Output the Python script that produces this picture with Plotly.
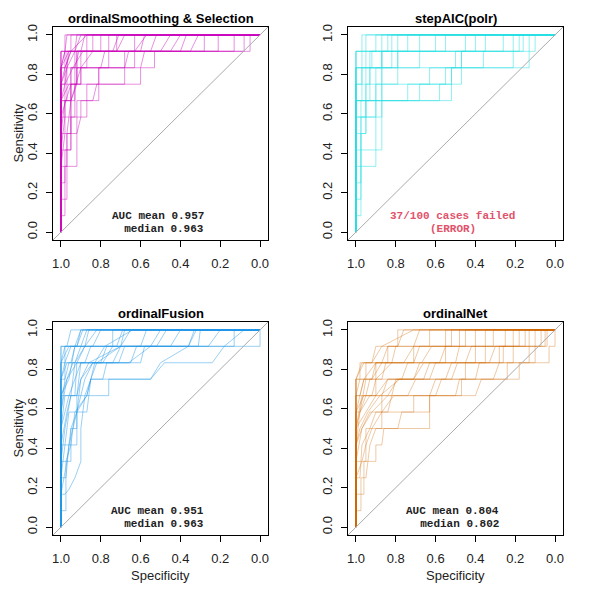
import plotly.graph_objects as go

# ROC curves: (specificity, sensitivity in twelfths)
N_POS = 12

SMOOTH_CURVES = [
    [(1, 0), (1, 9), (0.97, 9), (0.97, 11), (0.87, 11), (0.87, 12), (0, 12)],
    [(1, 0), (1, 2), (0.97, 2), (0.97, 6), (0.95, 6), (0.95, 9), (0.92, 9), (0.92, 11), (0.76, 11), (0.76, 12), (0, 12)],
    [(1, 0), (1, 7), (0.98, 7), (0.98, 10), (0.95, 11), (0.80, 11), (0.80, 12), (0, 12)],
    [(1, 0), (1, 4), (0.97, 4), (0.97, 6), (0.92, 6), (0.92, 8), (0.84, 8), (0.82, 9), (0.68, 9), (0.68, 11), (0.55, 11), (0.52, 12), (0, 12)],
    [(1, 0), (1, 10), (0.98, 11), (0.93, 11), (0.90, 12), (0, 12)],
    [(1, 0), (1, 6), (0.98, 8), (0.95, 8), (0.95, 10), (0.87, 10), (0.87, 11), (0.63, 11), (0.63, 12), (0, 12)],
    [(1, 0), (1, 11), (0.95, 11), (0.95, 12), (0, 12)],
    [(1, 0), (1, 5), (0.95, 5), (0.95, 7), (0.87, 7), (0.87, 9), (0.81, 9), (0.81, 10), (0.63, 10), (0.63, 11), (0.13, 11), (0.13, 12), (0, 12)],
    [(1, 0), (1, 8), (0.97, 8), (0.97, 9), (0.90, 9), (0.90, 11), (0.72, 11), (0.68, 12), (0, 12)],
    [(1, 0), (1, 3), (0.98, 3), (0.98, 4), (0.92, 4), (0.92, 6), (0.90, 7), (0.90, 8), (0.81, 8), (0.81, 10), (0.53, 10), (0.53, 11), (0.05, 11), (0.05, 12), (0, 12)],
    [(1, 0), (1, 9), (0.98, 10), (0.95, 11), (0.87, 12), (0, 12)],
    [(1, 0), (1, 8), (0.96, 9), (0.92, 9), (0.92, 10), (0.76, 10), (0.76, 11), (0.45, 11), (0.40, 12), (0, 12)],
    [(1, 0), (1, 10), (0.98, 10), (0.98, 11), (0.84, 11), (0.84, 12), (0, 12)],
    [(1, 0), (1, 5), (0.98, 7), (0.93, 7), (0.93, 9), (0.60, 9), (0.60, 10), (0.58, 11), (0.35, 11), (0.31, 12), (0, 12)],
    [(1, 0), (1, 11), (0.98, 11), (0.98, 12), (0, 12)],
    [(1, 0), (1, 7), (0.95, 9), (0.90, 9), (0.90, 10), (0.84, 11), (0.72, 11), (0.72, 12), (0, 12)],
    [(1, 0), (1, 1), (0.98, 1), (0.98, 5), (0.95, 5), (0.95, 8), (0.92, 9), (0.92, 11), (0.21, 11), (0.21, 12), (0, 12)],
    [(1, 0), (1, 9), (0.98, 9), (0.96, 11), (0.90, 11), (0.88, 12), (0, 12)],
    [(1, 0), (1, 10), (0.97, 10), (0.93, 11), (0.63, 11), (0.57, 12), (0, 12)],
    [(1, 0), (1, 8), (0.95, 8), (0.95, 10), (0.68, 10), (0.66, 11), (0.28, 11), (0.28, 12), (0, 12)],
    [(1, 0), (1, 6), (0.97, 6), (0.95, 8), (0.90, 10), (0.80, 10), (0.78, 11), (0.50, 11), (0.45, 12), (0, 12)],
    [(1, 0), (1, 11), (0.93, 11), (0.92, 12), (0, 12)],
    [(1, 0), (1, 4), (0.98, 6), (0.98, 8), (0.93, 8), (0.93, 11), (0.08, 11), (0.08, 12), (0, 12)],
    [(1, 0), (1, 10), (0.98, 11), (0.97, 12), (0, 12)],
    [(1, 0), (1, 9), (0.97, 10), (0.93, 10), (0.91, 11), (0.40, 11), (0.37, 12), (0, 12)],
    [(1, 0), (1, 10), (0.96, 11), (0.74, 11), (0.71, 12), (0, 12)],
    [(1, 0), (1, 8), (0.98, 9), (0.94, 10), (0.89, 11), (0.60, 11), (0.58, 12), (0, 12)],
]

STEPAIC_CURVES = [
    [(1, 0), (1, 8), (0.87, 8), (0.87, 11), (0.68, 11), (0.68, 12), (0, 12)],
    [(1, 0), (1, 4), (0.90, 4), (0.90, 8), (0.52, 8), (0.52, 10), (0.13, 10), (0.13, 11), (0.10, 11), (0.10, 12), (0, 12)],
    [(1, 0), (1, 7), (0.95, 7), (0.95, 9), (0.87, 9), (0.87, 11), (0.55, 11), (0.55, 12), (0, 12)],
    [(1, 0), (1, 3), (0.975, 3), (0.975, 7), (0.87, 7), (0.87, 8), (0.74, 8), (0.74, 9), (0.47, 9), (0.47, 11), (0.21, 11), (0.21, 12), (0, 12)],
    [(1, 0), (1, 10), (0.95, 10), (0.95, 12), (0, 12)],
    [(1, 0), (1, 5), (0.87, 5), (0.87, 9), (0.63, 9), (0.63, 10), (0.50, 10), (0.50, 11), (0.16, 11), (0.16, 12), (0, 12)],
    [(1, 0), (1, 11), (0.90, 11), (0.90, 12), (0, 12)],
    [(1, 0), (1, 8), (0.93, 8), (0.93, 10), (0.79, 10), (0.79, 12), (0, 12)],
    [(1, 0), (1, 6), (0.95, 6), (0.95, 8), (0.58, 8), (0.58, 9), (0.52, 9), (0.52, 10), (0.36, 10), (0.36, 11), (0.26, 11), (0.26, 12), (0, 12)],
    [(1, 0), (1, 9), (0.97, 9), (0.97, 11), (0.84, 11), (0.84, 12), (0, 12)],
    [(1, 0), (1, 2), (0.975, 2), (0.975, 8), (0.90, 8), (0.90, 10), (0.68, 10), (0.68, 11), (0.45, 11), (0.45, 12), (0, 12)],
    [(1, 0), (1, 10), (0.92, 10), (0.92, 11), (0.60, 11), (0.60, 12), (0, 12)],
    [(1, 0), (1, 1), (0.975, 1), (0.975, 6), (0.95, 6), (0.95, 8), (0.68, 8), (0.68, 9), (0.55, 9), (0.55, 10), (0.21, 10), (0.21, 11), (0.13, 11), (0.13, 12), (0, 12)],
    [(1, 0), (1, 11), (0.97, 11), (0.97, 12), (0, 12)],
    [(1, 0), (1, 8), (0.97, 8), (0.97, 10), (0.82, 10), (0.82, 11), (0.40, 11), (0.40, 12), (0, 12)],
    [(1, 0), (1, 9), (0.93, 9), (0.93, 11), (0.74, 11), (0.74, 12), (0, 12)],
    [(1, 0), (1, 7), (0.90, 7), (0.90, 9), (0.79, 9), (0.79, 11), (0.35, 11), (0.35, 12), (0, 12)],
    [(1, 0), (1, 10), (0.87, 10), (0.87, 12), (0, 12)],
    [(1, 0), (1, 8), (0.95, 8), (0.95, 10), (0.47, 10), (0.47, 11), (0.18, 11), (0.18, 12), (0, 12)],
    [(1, 0), (1, 11), (0.82, 11), (0.82, 12), (0, 12)],
]

FUSION_CURVES = [
    [(1, 0), (1, 2), (0.98, 2), (0.96, 2.3), (0.93, 3), (0.90, 4), (0.90, 6), (0.88, 8), (0.82, 10), (0.70, 11), (0.65, 12), (0, 12)],
    [(1, 0), (1, 8), (0.96, 9), (0.93, 11), (0.84, 11), (0.80, 12), (0, 12)],
    [(1, 0), (1, 5), (0.97, 7), (0.95, 8), (0.92, 8), (0.90, 10), (0.74, 10), (0.70, 11), (0.55, 11), (0.50, 12), (0, 12)],
    [(1, 0), (1, 10), (0.98, 11), (0.00, 11), (0, 12)],
    [(1, 0), (1, 4), (0.95, 4), (0.95, 6), (0.92, 6), (0.92, 8), (0.76, 8), (0.76, 9), (0.55, 9), (0.48, 10), (0.24, 10), (0.18, 11), (0.08, 12), (0, 12)],
    [(1, 0), (1, 9), (0.97, 10), (0.93, 10), (0.90, 11), (0.87, 12), (0, 12)],
    [(1, 0), (1, 6), (0.98, 8), (0.92, 8), (0.90, 9), (0.84, 10), (0.79, 10), (0.74, 11), (0.45, 11), (0.40, 12), (0, 12)],
    [(1, 0), (1, 11), (0.97, 11), (0.95, 12), (0, 12)],
    [(1, 0), (1, 3), (0.98, 5), (0.96, 7), (0.87, 7), (0.85, 9), (0.79, 9), (0.77, 10), (0.65, 10), (0.62, 11), (0.31, 11), (0.30, 12), (0, 12)],
    [(1, 0), (1, 7), (0.97, 9), (0.92, 10), (0.88, 11), (0.82, 12), (0, 12)],
    [(1, 0), (1, 9), (0.98, 9), (0.98, 11), (0.74, 11), (0.74, 12), (0, 12)],
    [(1, 0), (1, 5), (0.92, 5), (0.92, 7), (0.88, 9), (0.84, 10), (0.60, 10), (0.58, 11), (0.36, 11), (0.33, 12), (0, 12)],
    [(1, 0), (1, 10), (0.95, 10), (0.93, 11), (0.90, 12), (0, 12)],
    [(1, 0), (1, 2), (0.97, 4), (0.95, 6), (0.92, 7), (0.90, 9), (0.86, 10), (0.70, 11), (0.68, 12), (0, 12)],
    [(1, 0), (1, 8), (0.93, 8), (0.92, 10), (0.66, 10), (0.55, 11), (0.13, 11), (0.13, 12), (0, 12)],
    [(1, 0), (1, 1), (0.975, 1), (0.975, 4), (0.95, 5), (0.93, 7), (0.87, 8), (0.83, 10), (0.78, 11), (0.64, 12), (0, 12)],
    [(1, 0), (1, 10), (0.96, 11), (0.92, 11), (0.89, 12), (0, 12)],
    [(1, 0), (1, 6), (0.96, 8), (0.93, 9), (0.90, 10), (0.71, 10), (0.68, 11), (0.52, 11), (0.47, 12), (0, 12)],
    [(1, 0), (1, 9), (0.98, 10), (0.95, 11), (0.72, 11), (0.69, 12), (0, 12)],
    [(1, 0), (1, 7), (0.98, 9), (0.96, 10), (0.80, 10), (0.77, 11), (0.26, 11), (0.20, 12), (0, 12)],
    [(1, 0), (1, 4), (0.98, 6), (0.95, 8), (0.93, 10), (0.88, 11), (0.86, 12), (0, 12)],
    [(1, 0), (1, 11), (0.92, 11), (0.90, 12), (0, 12)],
    [(1, 0), (1, 8), (0.97, 9), (0.94, 10), (0.88, 10), (0.85, 11), (0.60, 11), (0.57, 12), (0, 12)],
    [(1, 0), (1, 3), (0.975, 3), (0.96, 5), (0.92, 7), (0.87, 8), (0.85, 9), (0.55, 9), (0.50, 10), (0.36, 11), (0.32, 12), (0, 12)],
]

NET_CURVES = [
    [(1, 0), (1, 9), (0.95, 9), (0.95, 10), (0.84, 10), (0.84, 11), (0.79, 11), (0.79, 12), (0, 12)],
    [(1, 0), (1, 6), (0.97, 8), (0.90, 8), (0.90, 10), (0.71, 10), (0.71, 11), (0.55, 11), (0.55, 12), (0, 12)],
    [(1, 0), (1, 4), (0.95, 4), (0.95, 6), (0.87, 6), (0.87, 8), (0.63, 8), (0.60, 9), (0.45, 9), (0.45, 10), (0.26, 10), (0.26, 11), (0.10, 11), (0.10, 12), (0, 12)],
    [(1, 0), (1, 8), (0.98, 9), (0.92, 9), (0.87, 10), (0.76, 10), (0.71, 11), (0.48, 11), (0.48, 12), (0, 12)],
    [(1, 0), (1, 5), (0.98, 7), (0.93, 8), (0.82, 8), (0.80, 9), (0.55, 9), (0.52, 10), (0.35, 10), (0.35, 11), (0.18, 11), (0.18, 12), (0, 12)],
    [(1, 0), (1, 2), (0.96, 2), (0.96, 4), (0.90, 4), (0.90, 5), (0.87, 5), (0.86, 6), (0.63, 6), (0.63, 8), (0.40, 8), (0.37, 9), (0.24, 9), (0.24, 10), (0.10, 10), (0.10, 11), (0.04, 11), (0.04, 12), (0, 12)],
    [(1, 0), (1, 7), (0.96, 9), (0.90, 10), (0.82, 10), (0.80, 11), (0.63, 11), (0.63, 12), (0, 12)],
    [(1, 0), (1, 3), (0.98, 3), (0.97, 5), (0.93, 6), (0.90, 7), (0.71, 7), (0.71, 8), (0.50, 8), (0.48, 9), (0.31, 9), (0.28, 10), (0.21, 10), (0.21, 11), (0.07, 11), (0.07, 12), (0, 12)],
    [(1, 0), (1, 9), (0.97, 10), (0.92, 10), (0.87, 11), (0.71, 12), (0, 12)],
    [(1, 0), (1, 6), (0.95, 7), (0.90, 8), (0.84, 9), (0.63, 9), (0.60, 10), (0.45, 10), (0.42, 11), (0.25, 11), (0.25, 12), (0, 12)],
    [(1, 0), (1, 8), (0.98, 8), (0.96, 9), (0.87, 9), (0.85, 10), (0.55, 10), (0.55, 11), (0.35, 11), (0.35, 12), (0, 12)],
    [(1, 0), (1, 1), (0.975, 1), (0.975, 3), (0.95, 3), (0.93, 5), (0.90, 6), (0.79, 6), (0.77, 7), (0.63, 7), (0.63, 8), (0.47, 8), (0.47, 9), (0.18, 9), (0.18, 10), (0.03, 10), (0.03, 11), (0.00, 11), (0, 12)],
    [(1, 0), (1, 7), (0.98, 7), (0.95, 9), (0.92, 9), (0.90, 10), (0.67, 10), (0.62, 11), (0.52, 11), (0.52, 12), (0, 12)],
    [(1, 0), (1, 5), (0.98, 6), (0.94, 7), (0.88, 8), (0.78, 9), (0.71, 9), (0.66, 10), (0.40, 10), (0.40, 11), (0.21, 11), (0.21, 12), (0, 12)],
    [(1, 0), (1, 9), (0.98, 9), (0.98, 10), (0.92, 10), (0.90, 11), (0.79, 11), (0.76, 12), (0, 12)],
    [(1, 0), (1, 4), (0.97, 6), (0.93, 7), (0.84, 7), (0.82, 8), (0.60, 8), (0.57, 9), (0.40, 9), (0.38, 10), (0.13, 10), (0.13, 11), (0.05, 11), (0.05, 12), (0, 12)],
    [(1, 0), (1, 8), (0.95, 8), (0.93, 9), (0.77, 9), (0.74, 10), (0.50, 10), (0.48, 11), (0.31, 11), (0.31, 12), (0, 12)],
    [(1, 0), (1, 6), (0.98, 7), (0.95, 8), (0.87, 8), (0.84, 9), (0.71, 9), (0.68, 10), (0.58, 10), (0.55, 11), (0.40, 11), (0.40, 12), (0, 12)],
    [(1, 0), (1, 3), (0.97, 4), (0.95, 5), (0.92, 6), (0.87, 7), (0.81, 8), (0.74, 8), (0.70, 9), (0.52, 9), (0.49, 10), (0.28, 10), (0.28, 11), (0.13, 11), (0.13, 12), (0, 12)],
    [(1, 0), (1, 7), (0.96, 8), (0.92, 8), (0.90, 9), (0.82, 10), (0.71, 10), (0.68, 11), (0.45, 11), (0.45, 12), (0, 12)],
    [(1, 0), (1, 5), (0.97, 6), (0.92, 7), (0.84, 8), (0.79, 9), (0.66, 9), (0.63, 10), (0.33, 10), (0.30, 11), (0.15, 11), (0.15, 12), (0, 12)],
    [(1, 0), (1, 9), (0.96, 10), (0.87, 10), (0.84, 11), (0.71, 11), (0.68, 12), (0, 12)],
]

PANEL_TITLES = ["ordinalSmoothing & Selection", "stepAIC(polr)", "ordinalFusion", "ordinalNet"]
PANEL_CURVES = [SMOOTH_CURVES, STEPAIC_CURVES, FUSION_CURVES, NET_CURVES]
PANEL_COLORS = ["rgba(205,11,188,0.45)", "rgba(40,226,229,0.5)",
                "rgba(34,151,230,0.45)", "rgba(205,102,0,0.35)"]
PANEL_NOTES = [("AUC mean 0.957", "  median 0.963"), ("37/100 cases failed", "(ERROR)"),
               ("AUC mean 0.951", "  median 0.963"), ("AUC mean 0.804", "  median 0.802")]

TICKS = [0.0, 0.2, 0.4, 0.6, 0.8, 1.0]

# The page body keeps its default 8px margin, so the figure starts at (8, 8)
PAGE_MARGIN = 8
W = H = 590 - PAGE_MARGIN
# panel boxes in page pixels: (left, right, top, bottom)
BOXES = [(53, 268, 27, 240), (348, 563, 27, 240), (53, 268, 322, 535), (348, 563, 322, 535)]

SANS = "Liberation Sans, Arial, Helvetica, sans-serif"
MONO = "Liberation Mono, Courier New, monospace"


def px(v):
    return v - PAGE_MARGIN


fig = go.Figure()
layout = {}
annotations = []
shapes = []

for i, (title, curves, color, note, box) in enumerate(
        zip(PANEL_TITLES, PANEL_CURVES, PANEL_COLORS, PANEL_NOTES, BOXES)):
    n = "" if i == 0 else str(i + 1)
    xref, yref = f"x{n}", f"y{n}"
    for curve in curves:
        fig.add_trace(go.Scatter(
            x=[p[0] for p in curve], y=[p[1] / N_POS for p in curve],
            mode="lines", line=dict(color=color, width=1),
            xaxis=xref, yaxis=yref, showlegend=False, hoverinfo="skip",
        ))
    left, right, top, bottom = (px(v) for v in box)
    common = dict(showline=True, linecolor="black", linewidth=1, mirror=True,
                  ticks="outside", ticklen=6, tickcolor="black", tickwidth=1,
                  showgrid=False, zeroline=False, tickvals=TICKS,
                  ticktext=[f"{t:.1f}" for t in TICKS], automargin=False,
                  tickfont=dict(family=SANS, size=13, color="#222222"))
    layout[f"xaxis{n}"] = dict(common, domain=[left / W, right / W], range=[1.04, -0.04],
                               anchor=yref, ticklabelstandoff=5)
    layout[f"yaxis{n}"] = dict(common, domain=[1 - bottom / H, 1 - top / H], range=[-0.04, 1.04],
                               anchor=xref, tickangle=-90, ticklabelstandoff=4)

    shapes.append(dict(type="line", xref=f"{xref} domain", yref=f"{yref} domain",
                       x0=0, y0=0, x1=1, y1=1, line=dict(color="#AAAAAA", width=1)))

    # title box hangs from 1px below the top of its row
    annotations.append(dict(text=f"<b>{title}</b>", xref="paper", yref="paper",
                            x=(left + right) / 2 / W, y=1 - (top - px(27) + 0.5) / H,
                            showarrow=False, font=dict(family=SANS, size=13, color="black"),
                            xanchor="center", yanchor="top"))
    if i % 2 == 0:
        annotations.append(dict(text="Sensitivity", xref="paper", yref="paper",
                                x=0.5 / W, y=1 - (top + bottom) / 2 / H, textangle=-90,
                                showarrow=False, font=dict(family=SANS, size=13, color="#222222"),
                                xanchor="left", yanchor="middle"))
    if i >= 2:
        annotations.append(dict(text="Specificity", xref="paper", yref="paper",
                                x=(left + right) / 2 / W, y=1 - (bottom + 40) / H,
                                showarrow=False, font=dict(family=SANS, size=13, color="#222222"),
                                xanchor="center", yanchor="middle"))

    if i == 1:
        for text, yv in zip(note, [0.081, 0.016]):
            annotations.append(dict(text=f"<b>{text}</b>", xref=xref, yref=yref,
                                    x=0.515, y=yv, showarrow=False,
                                    font=dict(family=MONO, size=11, color="#DF536B"),
                                    xanchor="center", yanchor="middle"))
    else:
        for text, yv in zip(note, [0.081, 0.016]):
            annotations.append(dict(text=f"<b>{text}</b>".replace(" ", "&nbsp;"), xref=xref, yref=yref,
                                    x=0.27, y=yv, showarrow=False,
                                    font=dict(family=MONO, size=11, color="#222222"),
                                    xanchor="right", yanchor="middle"))

fig.update_layout(
    width=W, height=H, margin=dict(l=0, r=0, t=0, b=0),
    paper_bgcolor="white", plot_bgcolor="white",
    annotations=annotations, shapes=shapes, **layout,
)

fig.write_html("out.html")
